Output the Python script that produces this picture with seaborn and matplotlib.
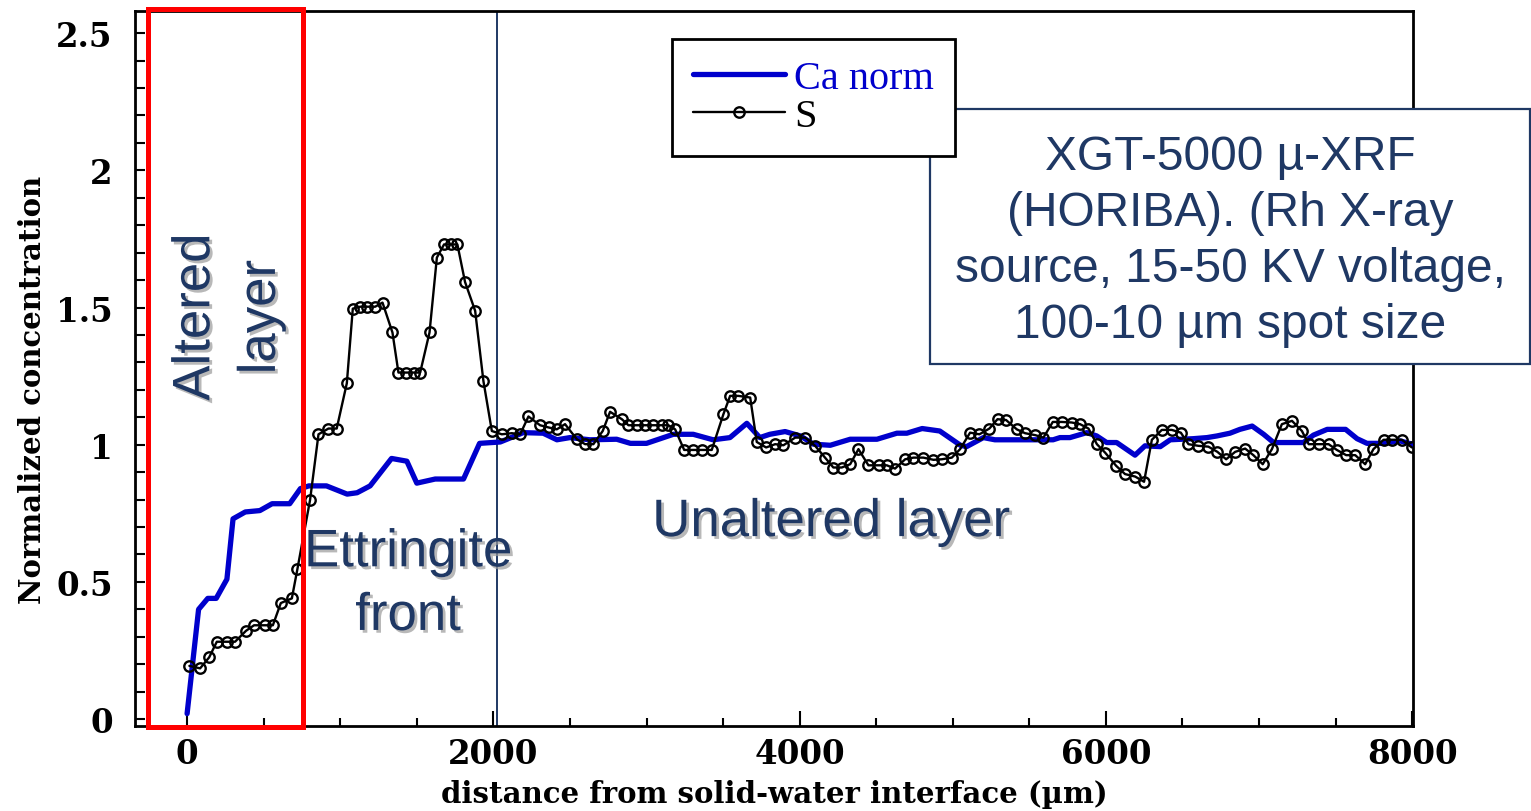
import matplotlib
matplotlib.use("Agg")
import matplotlib.pyplot as plt
import matplotlib.patheffects as pe
import matplotlib.transforms as mtransforms
from matplotlib.patches import Rectangle
from matplotlib.ticker import MultipleLocator, FuncFormatter
import pandas as pd
import seaborn as sns

# ---- Ca normalized profile (distance in µm) ----
ca_x = [0, 75, 135, 190, 260, 300, 380, 475, 555, 670,
        740, 795, 910, 1045, 1110, 1195, 1335, 1435, 1500, 1620,
        1805, 1910, 2045, 2195, 2325, 2415, 2500, 2630, 2805, 2895,
        3000, 3175, 3305, 3435, 3545, 3655, 3740, 3805, 3905, 4005,
        4090, 4200, 4330, 4505, 4635, 4700, 4800, 4915, 5050, 5090,
        5200, 5275, 5655, 5700, 5765, 5875, 5940, 6005, 6070, 6190,
        6255, 6355, 6420, 6570, 6660, 6725, 6810, 6875, 6955, 7030,
        7095, 7290, 7355, 7445, 7565, 7640, 7705, 7815, 7920, 8000]
ca_y = [0.02, 0.40, 0.44, 0.44, 0.51, 0.73, 0.755, 0.76, 0.785, 0.785,
        0.84, 0.85, 0.85, 0.82, 0.825, 0.85, 0.95, 0.94, 0.86, 0.875,
        0.875, 1.005, 1.01, 1.044, 1.042, 1.018, 1.026, 1.018, 1.02, 1.005,
        1.005, 1.038, 1.038, 1.018, 1.026, 1.078, 1.026, 1.038, 1.048, 1.032,
        1.002, 0.998, 1.02, 1.02, 1.042, 1.042, 1.059, 1.05, 0.998, 0.993,
        1.026, 1.018, 1.018, 1.026, 1.026, 1.044, 1.032, 1.008, 1.008, 0.962,
        0.996, 0.993, 1.018, 1.022, 1.026, 1.032, 1.042, 1.056, 1.068, 1.038,
        1.008, 1.008, 1.035, 1.056, 1.056, 1.022, 1.005, 1.005, 1.014, 1.002]

# ---- S profile ----
s_x = [15, 85, 144, 194, 259, 313, 385, 437, 509, 560,
       612, 684, 720, 803, 858, 923, 977, 1043, 1082, 1130,
       1178, 1228, 1276, 1341, 1380, 1430, 1482, 1522, 1583, 1631,
       1678, 1722, 1765, 1815, 1881, 1935, 1990, 2055, 2120, 2175,
       2229, 2305, 2360, 2414, 2468, 2545, 2599, 2653, 2714, 2762,
       2839, 2882, 2937, 2991, 3045, 3100, 3143, 3187, 3246, 3306,
       3361, 3426, 3502, 3546, 3600, 3677, 3720, 3781, 3840, 3894,
       3971, 4036, 4101, 4166, 4220, 4275, 4330, 4384, 4449, 4515,
       4569, 4623, 4689, 4743, 4808, 4874, 4928, 4994, 5048, 5113,
       5174, 5239, 5292, 5348, 5418, 5472, 5538, 5592, 5653, 5712,
       5777, 5831, 5886, 5941, 5995, 6067, 6125, 6191, 6249, 6300,
       6365, 6430, 6489, 6539, 6604, 6669, 6728, 6785, 6844, 6909,
       6963, 7024, 7084, 7149, 7215, 7280, 7324, 7389, 7454, 7508,
       7569, 7628, 7693, 7747, 7813, 7868, 7933, 7998]
s_y = [0.194, 0.185, 0.225, 0.282, 0.282, 0.282, 0.322, 0.342, 0.342, 0.342,
       0.423, 0.44, 0.546, 0.799, 1.038, 1.059, 1.059, 1.224, 1.496, 1.503,
       1.503, 1.503, 1.518, 1.409, 1.263, 1.263, 1.263, 1.263, 1.409, 1.682,
       1.73, 1.73, 1.73, 1.593, 1.488, 1.232, 1.05, 1.038, 1.042, 1.038,
       1.103, 1.071, 1.063, 1.056, 1.075, 1.02, 1.002, 1.002, 1.05, 1.12,
       1.093, 1.071, 1.071, 1.071, 1.071, 1.071, 1.071, 1.056, 0.981, 0.981,
       0.981, 0.981, 1.111, 1.178, 1.178, 1.172, 1.01, 0.99, 1.002, 0.998,
       1.026, 1.026, 0.996, 0.953, 0.917, 0.917, 0.929, 0.984, 0.925, 0.925,
       0.925, 0.913, 0.947, 0.953, 0.953, 0.945, 0.947, 0.953, 0.984, 1.044,
       1.038, 1.059, 1.093, 1.09, 1.056, 1.042, 1.035, 1.026, 1.083, 1.083,
       1.081, 1.075, 1.059, 1.002, 0.971, 0.923, 0.893, 0.884, 0.865, 1.018,
       1.054, 1.054, 1.044, 1.002, 0.996, 0.993, 0.974, 0.947, 0.974, 0.986,
       0.962, 0.929, 0.984, 1.075, 1.087, 1.05, 1.002, 1.002, 1.002, 0.981,
       0.962, 0.962, 0.929, 0.984, 1.018, 1.018, 1.018, 0.99]

x_ticks = [0, 2000, 4000, 6000, 8000]
y_ticks = [0, 0.5, 1, 1.5, 2, 2.5]

NAVY = "#1F3864"
BLUE = "#0000CC"

sns.set_style("white")
plt.rcParams["font.family"] = ["DejaVu Serif"]
plt.rcParams["text.color"] = "black"
plt.rcParams["axes.labelcolor"] = "black"
plt.rcParams["xtick.color"] = "black"
plt.rcParams["ytick.color"] = "black"

ca_df = pd.DataFrame({"x": ca_x, "y": ca_y})
s_df = pd.DataFrame({"x": s_x, "y": s_y})

fig = plt.figure(figsize=(15.31, 8.12), dpi=100)
ax = fig.add_axes([0.0882, 0.1047, 0.8347, 0.8803])

sns.lineplot(data=ca_df, x="x", y="y", ax=ax, color=BLUE, lw=3.8,
             sort=False, label="Ca norm", zorder=3)
sns.lineplot(data=s_df, x="x", y="y", ax=ax, color="black", lw=1.7,
             marker="o", markersize=7.5, markerfacecolor="none",
             markeredgecolor="black", markeredgewidth=1.7,
             sort=False, label="S", zorder=3)

ax.set_xlim(-340, 8005)
ax.set_ylim(-0.025, 2.58)
ax.set_xticks(x_ticks)
ax.set_yticks(y_ticks)
ax.xaxis.set_minor_locator(MultipleLocator(500))
ax.yaxis.set_minor_locator(MultipleLocator(0.1))
ax.yaxis.set_major_formatter(FuncFormatter(lambda v, p: f"{v:g}"))

ax.tick_params(which="both", direction="in", top=False, right=False,
               bottom=True, left=True, color="black", labelcolor="black")
ax.tick_params(axis="x", which="major", length=11, width=1.5, pad=8)
ax.tick_params(axis="x", which="minor", length=6, width=1.5)
ax.tick_params(axis="y", which="both", length=7, width=1.5, pad=16)
for lab in ax.get_xticklabels() + ax.get_yticklabels():
    lab.set_fontsize(23.5)
    lab.set_fontweight("bold")

for sp in ax.spines.values():
    sp.set_color("black")
    sp.set_linewidth(2)

ax.set_xlabel("distance from solid-water interface (µm)", fontsize=21,
              fontweight="bold", color="black")
ax.set_ylabel("Normalized concentration", fontsize=21, fontweight="bold",
              color="black")
ax.xaxis.set_label_coords(0.5, -0.074)
ax.yaxis.set_label_coords(-0.069, 0.471)

# boundary between the ettringite front and the unaltered layer
ax.axvline(2025, color=NAVY, lw=1.4, zorder=2)

# altered layer outline
trans = mtransforms.blended_transform_factory(ax.transData, ax.transAxes)
ax.add_patch(Rectangle((-255, -0.0014), 1013, 1.0045, fill=False,
                       ec="red", lw=3.6, transform=trans, clip_on=False,
                       zorder=6))

shadow = [pe.SimplePatchShadow(offset=(2, -2), shadow_rgbFace="#9a9a9a",
                               alpha=0.7), pe.Normal()]
zone_kw = dict(fontsize=38, color=NAVY, family="Liberation Sans",
               ha="center", va="center", path_effects=shadow, zorder=7)
ax.text(268, 1.465, "Altered\nlayer", rotation=90, linespacing=1.4,
        **zone_kw)
ax.text(1443, 0.492, "Ettringite\nfront", linespacing=1.35, **zone_kw)
ax.text(4206, 0.718, "Unaltered layer", **zone_kw)

# instrument note
ax.add_patch(Rectangle((0.622, 0.506), 0.4695, 0.357, transform=ax.transAxes,
                       fc="white", ec=NAVY, lw=1.6, clip_on=False, zorder=4))
ax.text(0.857, 0.679,
        "XGT-5000 µ-XRF\n(HORIBA). (Rh X-ray\nsource, 15-50 KV voltage,\n100-10 µm spot size",
        transform=ax.transAxes, fontsize=34.5, color=NAVY,
        family="Liberation Sans", ha="center", va="center",
        linespacing=1.31, zorder=5)

leg = ax.legend(loc="upper left", bbox_to_anchor=(0.42, 0.961),
                borderaxespad=0, prop={"family": "Liberation Serif", "size": 29},
                handlelength=2.3, handletextpad=0.22, borderpad=0.52,
                labelspacing=0.02, frameon=True, fancybox=False,
                edgecolor="black", framealpha=1)
leg.get_frame().set_linewidth(2)
leg.set_zorder(8)
leg.get_texts()[0].set_color(BLUE)
leg.get_texts()[1].set_color("black")

fig.savefig("out.png", dpi=100)
